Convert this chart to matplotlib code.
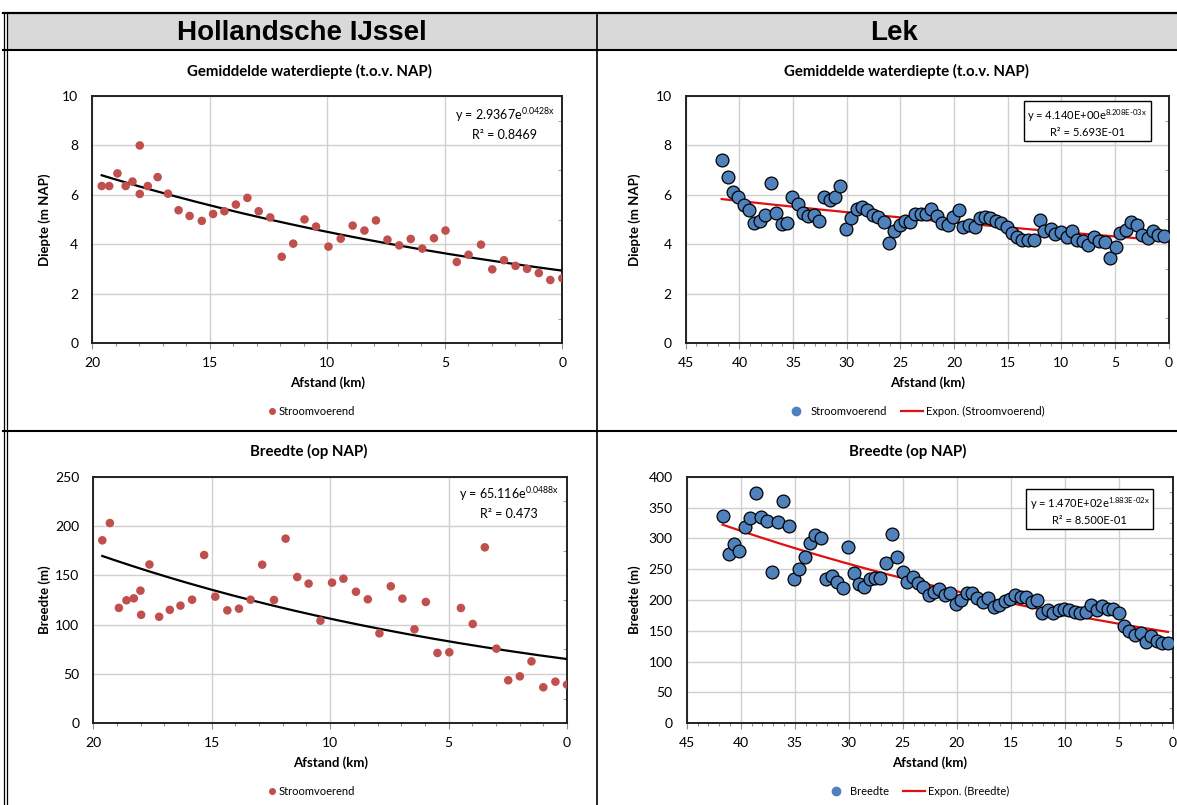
import numpy as np
import matplotlib
matplotlib.use('Agg')
from matplotlib import pyplot as plt
from matplotlib.patches import Rectangle
from matplotlib.lines import Line2D
from matplotlib.ticker import MultipleLocator

plt.rcParams['font.family'] = ['Lato', 'DejaVu Sans']
plt.rcParams['mathtext.fontset'] = 'custom'
plt.rcParams['mathtext.rm'] = 'Lato'
plt.rcParams['mathtext.it'] = 'Lato:italic'
plt.rcParams['mathtext.bf'] = 'Lato:bold'

# Hollandsche IJssel - gemiddelde waterdiepte (stroomvoerend)
hij_depth_km = [19.6, 19.28, 18.93, 18.58, 18.29, 17.98, 17.98, 17.64, 17.22, 16.78,
                16.33, 15.86, 15.34, 14.86, 14.38, 13.89, 13.4, 12.92, 12.43, 11.94,
                11.45, 10.97, 10.48, 9.95, 9.43, 8.92, 8.42, 7.93, 7.44, 6.94,
                6.45, 5.96, 5.46, 4.97, 4.49, 3.99, 3.46, 2.98, 2.48, 1.99,
                1.5, 1.0, 0.51, 0.0]
hij_depth = [6.36, 6.36, 6.87, 6.36, 6.54, 8.0, 6.04, 6.36, 6.72, 6.05,
             5.38, 5.15, 4.95, 5.23, 5.34, 5.61, 5.88, 5.34, 5.09, 3.5,
             4.03, 5.01, 4.72, 3.91, 4.23, 4.76, 4.56, 4.97, 4.19, 3.96,
             4.22, 3.83, 4.25, 4.56, 3.29, 3.58, 3.99, 2.99, 3.36, 3.13,
             3.01, 2.84, 2.56, 2.63]

# Hollandsche IJssel - breedte
hij_width_km = [19.62, 19.3, 18.92, 18.6, 18.29, 18.01, 17.98, 17.63, 17.22, 16.77,
                16.32, 15.83, 15.32, 14.85, 14.34, 13.85, 13.36, 12.87, 12.37, 11.88,
                11.39, 10.91, 10.41, 9.92, 9.44, 8.91, 8.41, 7.92, 7.44, 6.95,
                6.44, 5.96, 5.47, 4.97, 4.48, 3.98, 3.47, 2.98, 2.48, 1.99,
                1.5, 1.0, 0.49, 0.0]
hij_width = [185.5, 203, 117, 124.7, 126.7, 134.5, 110, 161, 108, 115,
             119.3, 125.3, 170.6, 128.4, 114.5, 116.2, 125.3, 160.8, 125, 187.2,
             148.3, 141.6, 104, 142.6, 146.6, 133.4, 125.7, 91.2, 138.9, 126.4,
             95.3, 123, 71.3, 72, 116.9, 100.7, 178.4, 75.7, 43.6, 47.6,
             62.8, 36.5, 42.2, 39.2]

# Lek - gemiddelde waterdiepte (stroomvoerend)
lek_depth_km = [41.65, 41.09, 40.6, 40.1, 39.6, 39.08, 38.61, 38.09, 37.59, 37.06,
                36.57, 36.07, 35.54, 35.08, 34.58, 34.09, 33.59, 33.09, 32.57, 32.1,
                31.6, 31.08, 30.58, 30.05, 29.56, 29.06, 28.57, 28.07, 27.57, 27.08,
                26.55, 26.05, 25.59, 25.06, 24.57, 24.1, 23.6, 23.1, 22.6, 22.1,
                21.6, 21.1, 20.58, 20.11, 19.58, 19.12, 18.62, 18.09, 17.62, 17.12,
                16.63, 16.13, 15.6, 15.07, 14.63, 14.13, 13.63, 13.1, 12.58, 12.02,
                11.58, 10.99, 10.55, 10.0, 9.5, 9.0, 8.59, 8.03, 7.5, 7.0,
                6.5, 5.97, 5.5, 4.95, 4.55, 4.02, 3.52, 2.99, 2.5, 1.97,
                1.47, 1.0, 0.44]
lek_depth = [7.39, 6.71, 6.11, 5.9, 5.59, 5.38, 4.85, 4.92, 5.18, 6.47,
             5.26, 4.82, 4.85, 5.9, 5.62, 5.27, 5.15, 5.18, 4.92, 5.9,
             5.77, 5.9, 6.36, 4.62, 5.07, 5.43, 5.49, 5.39, 5.19, 5.12,
             4.88, 4.03, 4.54, 4.76, 4.92, 4.89, 5.22, 5.24, 5.24, 5.42,
             5.15, 4.85, 4.76, 5.11, 5.39, 4.7, 4.76, 4.68, 5.08, 5.12,
             5.07, 4.95, 4.87, 4.68, 4.45, 4.3, 4.16, 4.19, 4.18, 4.99,
             4.53, 4.6, 4.41, 4.5, 4.29, 4.54, 4.15, 4.12, 3.98, 4.29,
             4.14, 4.08, 3.44, 3.88, 4.47, 4.57, 4.89, 4.78, 4.38, 4.25,
             4.53, 4.39, 4.35]

# Lek - breedte
lek_width_km = [41.67, 41.11, 40.59, 40.12, 39.57, 39.1, 38.61, 38.09, 37.59, 37.07,
                36.57, 36.08, 35.56, 35.09, 34.57, 34.04, 33.55, 33.09, 32.53, 32.1,
                31.57, 31.05, 30.52, 30.03, 29.54, 29.07, 28.55, 28.06, 27.53, 27.07,
                26.51, 26.02, 25.56, 25.0, 24.6, 24.07, 23.58, 23.09, 22.59, 22.13,
                21.6, 21.11, 20.62, 20.09, 19.57, 19.07, 18.58, 18.12, 17.59, 17.07,
                16.54, 16.08, 15.56, 15.06, 14.57, 14.07, 13.55, 13.06, 12.56, 12.07,
                11.54, 11.05, 10.56, 10.06, 9.57, 9.08, 8.55, 8.06, 7.53, 7.04,
                6.51, 6.02, 5.49, 5.0, 4.48, 4.01, 3.49, 2.96, 2.5, 1.98,
                1.48, 0.96, 0.44]
lek_width = [336, 274, 291, 279.5, 318, 333, 373, 334, 328.6, 245,
             326, 360.5, 320, 234.6, 250.8, 269.7, 293, 305, 300, 234.6,
             239, 229, 219, 286.5, 243.8, 226, 221.6, 233.5, 235, 235,
             260, 307.6, 269.2, 245, 230, 236.8, 228, 221.6, 208, 212.4,
             217.3, 208.6, 211.4, 193.5, 200, 212, 210.8, 203.8, 196.2, 202.7,
             188.6, 191.4, 198.4, 201, 208.6, 204.3, 205.4, 197.3, 200.5, 179,
             183.2, 179, 183.8, 185.4, 183.8, 181, 179.5, 181, 191.4, 183.2,
             189.7, 186, 185, 179.5, 157.8, 150.3, 142.7, 147, 132.4, 141.6,
             133, 129.7, 130.8]

# exponential trendlines (coefficients as printed in the chart)
fit_hij_depth = (2.9367, 0.0428)
fit_hij_width = (65.116, 0.0488)
fit_lek_depth = (4.140, 8.208e-3)
fit_lek_width = (147.0, 1.883e-2)

RED = '#C0504D'
BLUE = '#4F81BD'
TREND_RED = '#E01010'

W, H = 1177, 805
fig = plt.figure(figsize=(W / 100, H / 100), dpi=100)


def px_box(l, t, r, b):
    return [l / W, 1 - b / H, (r - l) / W, (b - t) / H]


def ftext(x, y, s, **kw):
    # text placed in figure pixels, measured from the top-left corner
    return fig.text(x / W, 1 - y / H, s, **kw)


# table background and borders
bg = fig.add_axes([0, 0, 1, 1], zorder=-1)
bg.set_xlim(0, W)
bg.set_ylim(H, 0)
bg.axis('off')
bg.add_patch(Rectangle((7, 14), W, 36, facecolor='#d9d9d9', edgecolor='none'))
bg.plot([3, W], [13.5, 13.5], color='black', lw=1.6)
bg.plot([3, W], [50.5, 50.5], color='black', lw=1.5)
bg.plot([3, W], [430.5, 430.5], color='black', lw=1.5)
bg.plot([3.5, 3.5], [13, H], color='black', lw=0.9)
bg.plot([6.5, 6.5], [13, H], color='black', lw=0.9)
bg.plot([597, 597], [13, H], color='black', lw=1.2)
bg.text(302, 33, 'Hollandsche IJssel', ha='center', va='center', fontsize=20,
        fontweight='bold', family='Liberation Sans')
bg.text(894, 33, 'Lek', ha='center', va='center', fontsize=20,
        fontweight='bold', family='Liberation Sans')


def make_panel(l, t, r, b, xmax, ymax, ystep, title, title_x, ylabel, ylabel_x):
    ax = fig.add_axes(px_box(l, t, r, b))
    ax.set_xlim(xmax, 0)
    ax.set_ylim(0, ymax)
    ax.xaxis.set_major_locator(MultipleLocator(5))
    ax.xaxis.set_minor_locator(MultipleLocator(1))
    ax.yaxis.set_major_locator(MultipleLocator(ystep))
    ax.yaxis.set_minor_locator(MultipleLocator(ystep / 2))
    ax.grid(True, which='major', color='#d0d0d0', lw=1)
    ax.set_axisbelow(True)
    for s in ax.spines.values():
        s.set_linewidth(1.4)
        s.set_color('#222222')
    ax.tick_params(axis='x', which='major', direction='out', length=4, width=0.8,
                   color='#909090', pad=6, labelsize=10)
    ax.tick_params(axis='x', which='minor', direction='out', length=2.5, width=0.8,
                   color='#909090')
    ax.tick_params(axis='y', which='major', length=0, pad=10, labelsize=10)
    ax.tick_params(axis='y', which='minor', left=False, right=True, direction='in',
                   length=3, width=0.8, color='#a0a0a0')
    ax.set_xlabel('Afstand (km)', fontsize=9.5, fontweight='bold', va='top')
    ax.xaxis.set_label_coords(0.5, -33 / (b - t))
    ax.set_ylabel(ylabel, fontsize=9.5, fontweight='bold')
    ax.yaxis.set_label_coords((ylabel_x + 7 - l) / (r - l), 0.5)
    ftext(title_x, t - 25, title, ha='center', va='center',
          fontsize=10.8, fontweight='bold')
    return ax


def trend(ax, km, fit, color):
    xs = np.linspace(min(km), max(km), 200)
    ax.plot(xs, fit[0] * np.exp(fit[1] * xs), color=color, lw=1.6, zorder=3)


# top left
ax1 = make_panel(92.3, 96, 562.3, 343.3, 20, 10, 2,
                 'Gemiddelde waterdiepte (t.o.v. NAP)', 309, 'Diepte (m NAP)', 44)
ax1.scatter(hij_depth_km, hij_depth, s=38, color=RED, edgecolors='none', zorder=4)
trend(ax1, hij_depth_km, fit_hij_depth, 'black')
ftext(505, 124, 'y = 2.9367e$^{\\mathrm{0.0428x}}$\nR\u00b2 = 0.8469',
      ha='center', va='center', fontsize=9, linespacing=1.5)
ax1.legend(handles=[Line2D([], [], ls='none', marker='o', ms=4, color=RED)],
           labels=['Stroomvoerend'], loc='center', bbox_to_anchor=(311 / W, 1 - 411 / H),
           bbox_transform=fig.transFigure, frameon=False, fontsize=8,
           handletextpad=0.1, handlelength=1)

# top right
ax2 = make_panel(685.7, 96, 1168.7, 343, 45, 10, 2,
                 'Gemiddelde waterdiepte (t.o.v. NAP)', 906, 'Diepte (m NAP)', 634)
ax2.scatter(lek_depth_km, lek_depth, s=85, color=BLUE, edgecolors='black',
            linewidths=0.9, zorder=4)
trend(ax2, lek_depth_km, fit_lek_depth, TREND_RED)
ftext(1087.5, 122.5, 'y = 4.140E+00e$^{\\mathrm{8.208E\u201003x}}$\nR\u00b2 = 5.693E-01',
      ha='center', va='center', fontsize=8, linespacing=1.4,
      bbox=dict(boxstyle='square,pad=0.3', fc='white', ec='black', lw=1))
ax2.legend(handles=[Line2D([], [], ls='none', marker='o', ms=6, color=BLUE),
                    Line2D([], [], color=TREND_RED, lw=1.6)],
           labels=['Stroomvoerend', 'Expon. (Stroomvoerend)'], loc='center',
           bbox_to_anchor=(915 / W, 1 - 411 / H), bbox_transform=fig.transFigure,
           frameon=False, fontsize=8, ncol=2, handletextpad=0.3, handlelength=2,
           columnspacing=1.2)

# bottom left
ax3 = make_panel(93.3, 476.7, 567, 723.3, 20, 250, 50,
                 'Breedte (op NAP)', 309, 'Breedte (m)', 44)
ax3.scatter(hij_width_km, hij_width, s=38, color=RED, edgecolors='none', zorder=4)
trend(ax3, hij_width_km, fit_hij_width, 'black')
ftext(509, 502.5, 'y = 65.116e$^{\\mathrm{0.0488x}}$\nR\u00b2 = 0.473',
      ha='center', va='center', fontsize=9, linespacing=1.5)
ax3.legend(handles=[Line2D([], [], ls='none', marker='o', ms=4, color=RED)],
           labels=['Stroomvoerend'], loc='center', bbox_to_anchor=(311 / W, 1 - 791 / H),
           bbox_transform=fig.transFigure, frameon=False, fontsize=8,
           handletextpad=0.1, handlelength=1)

# bottom right
ax4 = make_panel(686.7, 476.7, 1172.7, 723.3, 45, 400, 50,
                 'Breedte (op NAP)', 908, 'Breedte (m)', 634)
ax4.scatter(lek_width_km, lek_width, s=85, color=BLUE, edgecolors='black',
            linewidths=0.9, zorder=4)
trend(ax4, lek_width_km, fit_lek_width, TREND_RED)
ftext(1089.8, 510.5, 'y = 1.470E+02e$^{\\mathrm{1.883E\u201002x}}$\nR\u00b2 = 8.500E-01',
      ha='center', va='center', fontsize=8, linespacing=1.4,
      bbox=dict(boxstyle='square,pad=0.3', fc='white', ec='black', lw=1))
ax4.legend(handles=[Line2D([], [], ls='none', marker='o', ms=6, color=BLUE),
                    Line2D([], [], color=TREND_RED, lw=1.6)],
           labels=['Breedte', 'Expon. (Breedte)'], loc='center',
           bbox_to_anchor=(917 / W, 1 - 791 / H), bbox_transform=fig.transFigure,
           frameon=False, fontsize=8, ncol=2, handletextpad=0.3, handlelength=2,
           columnspacing=1.2)

fig.savefig('out.png', dpi=100)
